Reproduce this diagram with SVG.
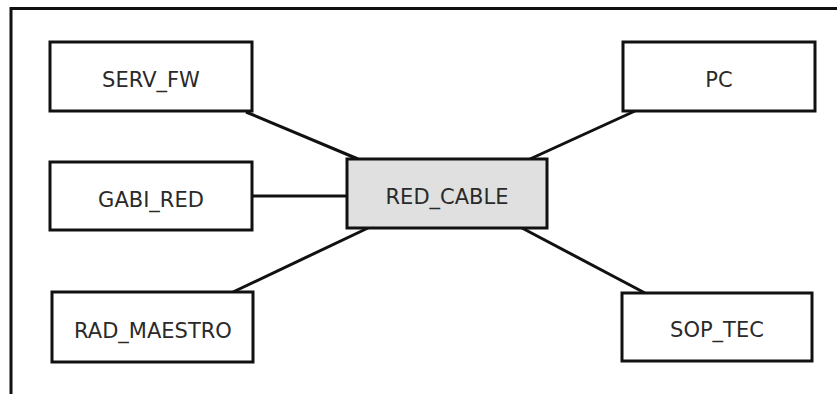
<svg xmlns="http://www.w3.org/2000/svg" width="837" height="394" viewBox="0 0 837 394">
<style>
.box{fill:#ffffff;stroke:#111;stroke-width:3}
.hub{fill:#e0e0e0;stroke:#111;stroke-width:3}
.lbl{font-family:"DejaVu Sans",Verdana,sans-serif;font-size:21px;fill:#2a2a2a;text-anchor:middle}
.con line{stroke:#111;stroke-width:3}
</style>
<rect width="837" height="394" fill="#ffffff"/>
<path d="M11,394 V8.5 H837" fill="none" stroke="#111" stroke-width="3"/>
<g id="connectors" class="con">
<line x1="246" y1="112" x2="358" y2="159"/>
<line x1="252" y1="196" x2="347" y2="196"/>
<line x1="233" y1="292" x2="368" y2="228"/>
<line x1="635" y1="111" x2="530" y2="159"/>
<line x1="645" y1="293" x2="522" y2="228"/>
</g>
<g id="SERV_FW"><rect class="box" x="50" y="42" width="202" height="69"/><text class="lbl" x="151" y="87">SERV_FW</text></g>
<g id="GABI_RED"><rect class="box" x="50" y="162" width="202" height="68"/><text class="lbl" x="151" y="207">GABI_RED</text></g>
<g id="RAD_MAESTRO"><rect class="box" x="52" y="292" width="201" height="70"/><text class="lbl" x="153" y="338">RAD_MAESTRO</text></g>
<g id="RED_CABLE"><rect class="hub" x="347" y="159" width="200" height="69"/><text class="lbl" x="447" y="204">RED_CABLE</text></g>
<g id="PC"><rect class="box" x="623" y="42" width="192" height="69"/><text class="lbl" x="719" y="87">PC</text></g>
<g id="SOP_TEC"><rect class="box" x="622" y="293" width="190" height="68"/><text class="lbl" x="717" y="337">SOP_TEC</text></g>
</svg>
